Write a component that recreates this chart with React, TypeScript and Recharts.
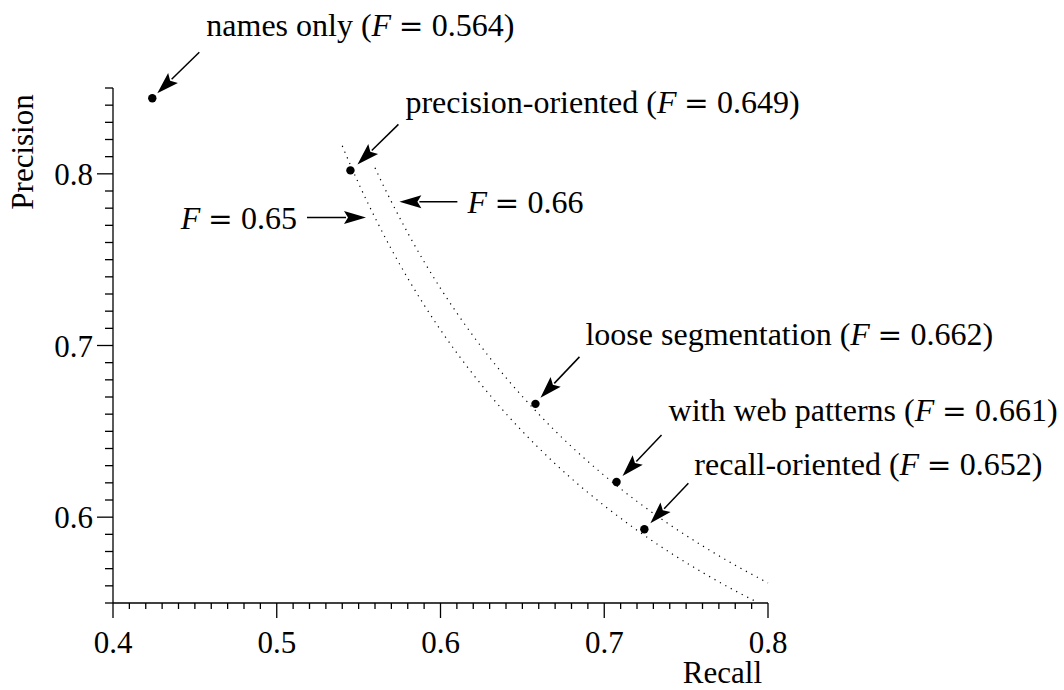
import React from 'react';
import { ComposedChart, Line, Scatter, XAxis, YAxis, ReferenceDot, Label } from 'recharts';

const FONT = '"Liberation Serif", "Times New Roman", Times, serif';
const FS = 31;
const FS_NOTE = 32;

// ---- System results (recall, precision) ----
const systemNames = ['names only', 'precision-oriented', 'loose segmentation', 'with web patterns', 'recall-oriented'];
const systemRecall = [0.424, 0.545, 0.658, 0.7075, 0.7245];
const systemPrecision = [0.844, 0.802, 0.666, 0.6205, 0.593];
const systemF = ['0.564', '0.649', '0.662', '0.661', '0.652'];

// ---- Iso-F curves ----
const f65Recall = [0.54, 0.545, 0.55, 0.56, 0.57, 0.58, 0.6, 0.62, 0.64, 0.66, 0.68, 0.7, 0.72, 0.74, 0.76, 0.78, 0.794];
const f65Precision = [0.8163, 0.8051, 0.7944, 0.7745, 0.7561, 0.7392, 0.7091, 0.6831, 0.6603, 0.6403, 0.6225, 0.6067, 0.5924, 0.5795, 0.5678, 0.5571, 0.5502];
const f66Recall = [0.56, 0.565, 0.57, 0.58, 0.59, 0.6, 0.62, 0.64, 0.66, 0.68, 0.7, 0.72, 0.74, 0.76, 0.78, 0.8];
const f66Precision = [0.8035, 0.7934, 0.7838, 0.7656, 0.7488, 0.7333, 0.7055, 0.6813, 0.66, 0.6411, 0.6243, 0.6092, 0.5956, 0.5833, 0.572, 0.5617];

// ---- Axis ticks ----
const xMajorTicks = [0.4, 0.5, 0.6, 0.7, 0.8];
const xTickLabels = ['0.4', '0.5', '0.6', '0.7', '0.8'];
const xAllTicks = [0.4, 0.41, 0.42, 0.43, 0.44, 0.45, 0.46, 0.47, 0.48, 0.49, 0.5, 0.51, 0.52, 0.53, 0.54, 0.55, 0.56, 0.57, 0.58, 0.59, 0.6, 0.61, 0.62, 0.63, 0.64, 0.65, 0.66, 0.67, 0.68, 0.69, 0.7, 0.71, 0.72, 0.73, 0.74, 0.75, 0.76, 0.77, 0.78, 0.79, 0.8];
const yMajorTicks = [0.6, 0.7, 0.8];
const yTickLabels = ['0.6', '0.7', '0.8'];
const yAllTicks = [0.55, 0.56, 0.57, 0.58, 0.59, 0.6, 0.61, 0.62, 0.63, 0.64, 0.65, 0.66, 0.67, 0.68, 0.69, 0.7, 0.71, 0.72, 0.73, 0.74, 0.75, 0.76, 0.77, 0.78, 0.79, 0.8, 0.81, 0.82, 0.83, 0.84, 0.85];

// ---- Annotation layout (pixel offsets from each point) ----
const annotationLayout = [
  { tx: 54, ty: -62, ax: 47, ay: -46, hx: 5, hy: -5 },
  { tx: 55, ty: -57, ax: 48, ay: -46, hx: 7, hy: -6 },
  { tx: 50, ty: -59, ax: 44, ay: -47, hx: 5, hy: -6 },
  { tx: 52, ty: -61, ax: 45, ay: -47, hx: 6, hy: -6 },
  { tx: 50, ty: -54, ax: 44, ay: -46, hx: 6, hy: -6 },
];

const systemData = systemNames.map((name, i) => ({ r: systemRecall[i], p: systemPrecision[i], i }));
const f65Data = f65Recall.map((r, i) => ({ r, p: f65Precision[i] }));
const f66Data = f66Recall.map((r, i) => ({ r, p: f66Precision[i] }));

const Arrow = ({ x1, y1, x2, y2, len = 22, half = 7 }: any) => {
  const dx = x2 - x1;
  const dy = y2 - y1;
  const L = Math.hypot(dx, dy);
  const ux = dx / L;
  const uy = dy / L;
  const bx = x2 - ux * len;
  const by = y2 - uy * len;
  const px = -uy;
  const py = ux;
  return (
    <g>
      <line x1={x1} y1={y1} x2={bx + ux * 2} y2={by + uy * 2} stroke="#000" strokeWidth={1.5} />
      <polygon
        points={`${x2},${y2} ${bx + px * half},${by + py * half} ${bx + ux * 4},${by + uy * 4} ${bx - px * half},${by - py * half}`}
        fill="#000"
      />
    </g>
  );
};

const MathF = ({ value }: { value: string }) => (
  <>
    <tspan fontStyle="italic">F</tspan>
    <tspan dx="0.26em" fontFamily='"DejaVu Serif", serif' fontSize="0.92em">=</tspan>
    <tspan dx="0.26em">{value}</tspan>
  </>
);

const SystemShape = (props: any) => {
  const { cx, cy, payload } = props;
  if (cx == null || cy == null) return null;
  const i = payload.i;
  const a = annotationLayout[i];
  return (
    <g>
      <circle cx={cx} cy={cy} r={4.2} fill="#000" />
      <Arrow x1={cx + a.ax} y1={cy + a.ay} x2={cx + a.hx} y2={cy + a.hy} />
      <text x={cx + a.tx} y={cy + a.ty} fontFamily={FONT} fontSize={FS_NOTE} fill="#000">
        {systemNames[i]} (<MathF value={systemF[i]} />)
      </text>
    </g>
  );
};

const XTick = (props: any) => {
  const { x, y, payload } = props;
  const v = payload.value;
  const idx = xMajorTicks.findIndex((m) => Math.abs(m - v) < 1e-6);
  const major = idx >= 0;
  return (
    <g>
      <line x1={x} x2={x} y1={y} y2={y + (major ? 15 : 6)} stroke="#000" strokeWidth={1.3} />
      {major && (
        <text x={x} y={y + 50} textAnchor="middle" fontFamily={FONT} fontSize={FS} fill="#000">
          {xTickLabels[idx]}
        </text>
      )}
    </g>
  );
};

const YTick = (props: any) => {
  const { x, y, payload } = props;
  const v = payload.value;
  const idx = yMajorTicks.findIndex((m) => Math.abs(m - v) < 1e-6);
  const major = idx >= 0;
  return (
    <g>
      <line x1={x - (major ? 16 : 8)} x2={x} y1={y} y2={y} stroke="#000" strokeWidth={1.3} />
      {major && (
        <text x={x - 20} y={y + 11} textAnchor="end" fontFamily={FONT} fontSize={FS} fill="#000">
          {yTickLabels[idx]}
        </text>
      )}
    </g>
  );
};

const CurveLabel = (props: any) => {
  const { cx, cy, value, side } = props;
  if (cx == null || cy == null) return null;
  if (side === 'left') {
    return (
      <g>
        <Arrow x1={cx - 68} y1={cy} x2={cx - 9} y2={cy} len={22} half={6.5} />
        <text x={cx - 78} y={cy + 11} textAnchor="end" fontFamily={FONT} fontSize={FS_NOTE} fill="#000">
          <MathF value={value} />
        </text>
      </g>
    );
  }
  return (
    <g>
      <Arrow x1={cx + 66} y1={cy} x2={cx + 8} y2={cy} len={22} half={6.5} />
      <text x={cx + 76} y={cy + 11} textAnchor="start" fontFamily={FONT} fontSize={FS_NOTE} fill="#000">
        <MathF value={value} />
      </text>
    </g>
  );
};

const YLabel = (props: any) => {
  const vb = props.viewBox || { x: 53, y: 88 };
  const x = vb.x - 20;
  const y = vb.y + 64;
  return (
    <text x={x} y={y} transform={`rotate(-90, ${x}, ${y})`} textAnchor="middle" fontFamily={FONT} fontSize={FS} fill="#000">
      Precision
    </text>
  );
};

const XLabel = (props: any) => {
  const vb = props.viewBox || { x: 113, y: 603, width: 655 };
  return (
    <text x={vb.x + vb.width - 6} y={vb.y + 80} textAnchor="end" fontFamily={FONT} fontSize={FS} fill="#000">
      Recall
    </text>
  );
};

export default function App() {
  return (
    <div style={{ position: 'absolute', left: 0, top: 0, width: 1064, height: 690, background: '#fff' }}>
      <ComposedChart width={1064} height={690} margin={{ top: 88, right: 296, bottom: 27, left: 53 }}>
        <XAxis
          type="number"
          dataKey="r"
          domain={[0.4, 0.8]}
          ticks={xAllTicks}
          interval={0}
          tickSize={0}
          tickMargin={0}
          tick={<XTick />}
          tickLine={false}
          axisLine={{ stroke: '#000', strokeWidth: 1.3 }}
          height={60}
        >
          <Label content={<XLabel />} />
        </XAxis>
        <YAxis
          type="number"
          dataKey="p"
          domain={[0.55, 0.85]}
          ticks={yAllTicks}
          interval={0}
          tickSize={0}
          tickMargin={0}
          tick={<YTick />}
          tickLine={false}
          axisLine={{ stroke: '#000', strokeWidth: 1.3 }}
          width={60}
        >
          <Label content={<YLabel />} />
        </YAxis>
        <Line
          data={f65Data}
          dataKey="p"
          type="monotone"
          stroke="#000"
          strokeWidth={1.2}
          strokeDasharray="1.2 5"
          dot={false}
          activeDot={false}
          isAnimationActive={false}
        />
        <Line
          data={f66Data}
          dataKey="p"
          type="monotone"
          stroke="#000"
          strokeWidth={1.2}
          strokeDasharray="1.2 5"
          dot={false}
          activeDot={false}
          isAnimationActive={false}
        />
        <Scatter data={systemData} dataKey="p" shape={<SystemShape />} isAnimationActive={false} />
        <ReferenceDot
          x={f65Recall[3]}
          y={f65Precision[3]}
          r={0}
          shape={(p: any) => <CurveLabel {...p} value="0.65" side="left" />}
        />
        <ReferenceDot
          x={f66Recall[2]}
          y={f66Precision[2]}
          r={0}
          shape={(p: any) => <CurveLabel {...p} value="0.66" side="right" />}
        />
      </ComposedChart>
    </div>
  );
}
